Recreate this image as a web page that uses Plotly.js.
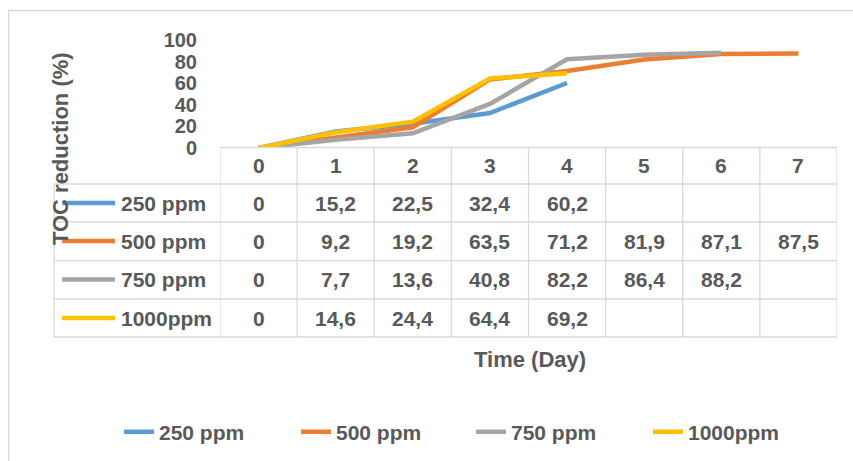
<!DOCTYPE html>
<html>
<head>
<meta charset="utf-8">
<script src="https://cdn.plot.ly/plotly-3.0.1.min.js"></script>
<style>html,body{margin:0;padding:0;background:#fff;}#chart{width:853px;height:461px;}</style>
</head>
<body>
<div id="chart"></div>
<script>
// ---- data ----
const days = [0, 1, 2, 3, 4, 5, 6, 7];
const seriesNames = ['250 ppm', '500 ppm', '750 ppm', '1000ppm'];
const s250 = [0, 15.2, 22.5, 32.4, 60.2];
const s500 = [0, 9.2, 19.2, 63.5, 71.2, 81.9, 87.1, 87.5];
const s750 = [0, 7.7, 13.6, 40.8, 82.2, 86.4, 88.2];
const s1000 = [0, 14.6, 24.4, 64.4, 69.2];
const yTicks = [0, 20, 40, 60, 80, 100];
const xTitle = 'Time (Day)';
const yTitle = 'TOC reduction (%)';

// ---- styles / layout ----
const seriesData = [s250, s500, s750, s1000];
const colors = ['#5B9BD5', '#ED7D31', '#A5A5A5', '#FFC000'];
const textColor = '#595959';
const gridColor = '#D9D9D9';
const W = 853, H = 461;
const L = 220, R = 837.3, T = 40, B = 148;
const px = v => (v - L) / (R - L);
const py = v => (B - v) / (B - T);
const fam = '"Liberation Sans", Arial, sans-serif';

const traces = seriesData.map((vals, i) => ({
  type: 'scatter', mode: 'lines',
  x: days.slice(0, vals.length), y: vals,
  name: seriesNames[i],
  legend: i < 2 ? 'legend' : 'legend2',
  line: {color: colors[i], width: 4.5},
  hoverinfo: 'skip'
}));

const shapes = [];
const annotations = [];
const lineStyle = {color: gridColor, width: 1.3};
// outer chart border
shapes.push({type: 'rect', xref: 'paper', yref: 'paper', x0: px(8.5), x1: px(900), y0: py(10.5), y1: py(520), line: {color: gridColor, width: 1.3}, layer: 'below'});

// table rows (pixel positions of horizontal lines)
const rowLines = [147.5, 184, 222, 260.7, 299, 337];
const rowCenters = [165.5, 203, 241, 279.5, 318];
rowLines.forEach((yy, k) => {
  shapes.push({type: 'line', xref: 'paper', yref: 'paper', x0: k === 0 ? px(L) : px(54), x1: px(R), y0: py(yy), y1: py(yy), line: lineStyle});
});
for (let k = 0; k <= days.length; k++) {
  const xv = days[0] - 0.5 + k;
  shapes.push({type: 'line', xref: 'x', yref: 'paper', x0: xv, x1: xv, y0: py(147.5), y1: py(337), line: lineStyle});
}
shapes.push({type: 'line', xref: 'paper', yref: 'paper', x0: px(54), x1: px(54), y0: py(184), y1: py(337), line: lineStyle});

const fmt = v => String(v).replace('.', ',');
const tfont = {family: fam, size: 21, color: textColor, weight: 'bold'};
days.forEach(d => {
  annotations.push({xref: 'x', yref: 'paper', x: d, y: py(rowCenters[0]), text: String(d), showarrow: false, xanchor: 'center', yanchor: 'middle', font: tfont});
});
seriesData.forEach((vals, i) => {
  const yc = py(rowCenters[i + 1]);
  vals.forEach((v, j) => {
    annotations.push({xref: 'x', yref: 'paper', x: days[j], y: yc, text: fmt(v), showarrow: false, xanchor: 'center', yanchor: 'middle', font: tfont});
  });
  annotations.push({xref: 'paper', yref: 'paper', x: px(119), y: yc, text: seriesNames[i], showarrow: false, xanchor: 'left', yanchor: 'middle', font: tfont});
  shapes.push({type: 'line', xref: 'paper', yref: 'paper', x0: px(62), x1: px(115), y0: yc, y1: yc, line: {color: colors[i], width: 4.5}});
});
annotations.push({xref: 'paper', yref: 'paper', x: px(60), y: py(149), text: yTitle, textangle: -90, showarrow: false, xanchor: 'center', yanchor: 'middle', font: {family: fam, size: 22, color: textColor, weight: 'bold'}});
annotations.push({xref: 'paper', yref: 'paper', x: px(530), y: py(359), text: xTitle, showarrow: false, xanchor: 'center', yanchor: 'middle', font: {family: fam, size: 22, color: textColor, weight: 'bold'}});

const legendBase = {
  orientation: 'h', xref: 'container', yref: 'container',
  xanchor: 'left', y: 1 - 432 / H, yanchor: 'middle',
  font: {family: fam, size: 21, color: textColor, weight: 'bold'},
  entrywidth: 132, entrywidthmode: 'pixels', itemwidth: 30,
  bgcolor: 'rgba(0,0,0,0)', borderwidth: 0, tracegroupgap: 0
};

const layout = {
  width: W, height: H,
  margin: {l: L, r: W - R, t: T, b: H - B, pad: 0},
  paper_bgcolor: '#fff', plot_bgcolor: 'rgba(0,0,0,0)',
  showlegend: true,
  legend: Object.assign({}, legendBase, {x: 119 / W}),
  legend2: Object.assign({}, legendBase, {x: (119 + 352) / W}),
  xaxis: {range: [-0.5, 7.5], showticklabels: false, showgrid: false, zeroline: false, showline: false, ticks: '', fixedrange: true},
  yaxis: {range: [0, 100], tickvals: yTicks, ticktext: yTicks.map(String), showgrid: false, zeroline: false, showline: false, ticks: '',
    ticklabelstandoff: 22, tickfont: {family: fam, size: 20, color: textColor, weight: 'bold'}, fixedrange: true},
  shapes: shapes,
  annotations: annotations
};

Plotly.newPlot('chart', traces, layout, {displayModeBar: false, staticPlot: true});
</script>
</body>
</html>
